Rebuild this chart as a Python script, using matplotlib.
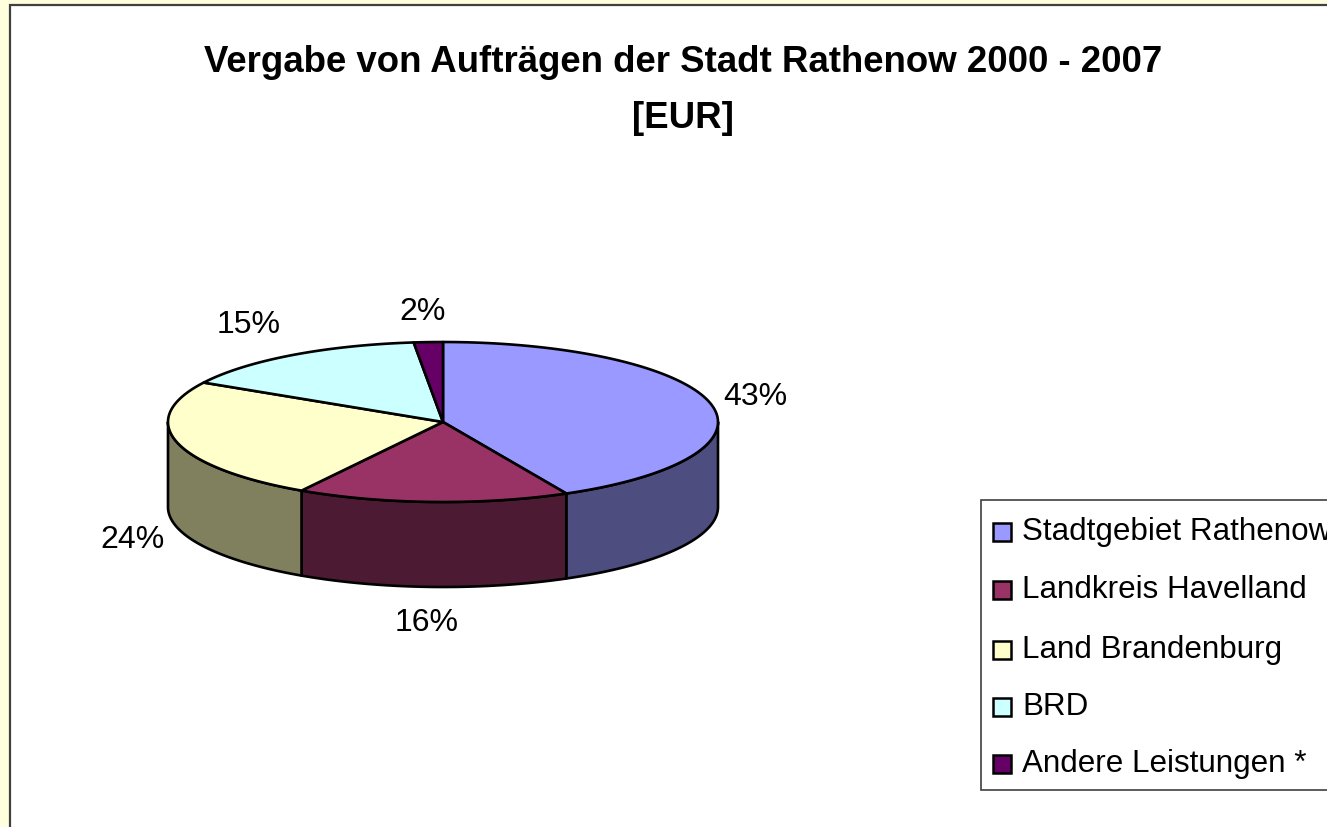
import numpy as np
import matplotlib
matplotlib.use('Agg')
import matplotlib.pyplot as plt
from matplotlib.patches import Polygon, Rectangle

plt.rcParams['font.family'] = ['Liberation Sans', 'DejaVu Sans']

# data
categories = ['Stadtgebiet Rathenow', 'Landkreis Havelland', 'Land Brandenburg', 'BRD', 'Andere Leistungen *']
shares = [42.6, 16.0, 24.6, 15.1, 1.7]
share_labels = ['43%', '16%', '24%', '15%', '2%']
colors = ['#9999FF', '#993366', '#FFFFCC', '#CCFFFF', '#660066']
side_colors = ['#4D4D80', '#4D1A33', '#80805F', '#668080', '#330033']

# layout in pixels
W, H = 1327, 827
cx, cy, rx, ry, depth = 443, 422, 275, 80, 85
label_pos = [(755, 397), (427, 623), (132, 540), (249, 325), (423, 312)]
LW = 1.9


def ell(t):
    return cx + rx * np.cos(t), cy - ry * np.sin(t)


fig = plt.figure(figsize=(W / 100, H / 100), dpi=100, facecolor='#FFFFDD')
ax = fig.add_axes([0, 0, 1, 1])
ax.set_xlim(0, W)
ax.set_ylim(H, 0)
ax.axis('off')

# chart area, runs off the right and bottom edge
ax.add_patch(Rectangle((10, 5), W, H, fc='white', ec='#404040', lw=1.6))

# slice angles, clockwise from the top
angles = 90 - np.cumsum([0] + shares) * 3.6

# side wall first, only the front half of the ellipse shows
for i in range(len(shares)):
    a0, a1 = angles[i], angles[i + 1]
    lo, hi = max(a1, -180), min(a0, 0)
    if lo >= hi:
        continue
    t = np.radians(np.linspace(hi, lo, 80))
    x, y = ell(t)
    pts = np.r_[np.c_[x, y], np.c_[x, y + depth][::-1]]
    ax.add_patch(Polygon(pts, fc=side_colors[i], ec='black', lw=LW, joinstyle='round'))

# top face
for i in range(len(shares)):
    t = np.radians(np.linspace(angles[i], angles[i + 1], 120))
    x, y = ell(t)
    pts = np.r_[[[cx, cy]], np.c_[x, y]]
    ax.add_patch(Polygon(pts, fc=colors[i], ec='black', lw=LW, joinstyle='round'))

for lab, (lx, ly) in zip(share_labels, label_pos):
    ax.text(lx, ly, lab, fontsize=23, ha='center', va='center', color='black')

ax.text(683, 63, 'Vergabe von Aufträgen der Stadt Rathenow 2000 - 2007', fontsize=26.4,
        fontweight='bold', ha='center', va='center')
ax.text(683, 119, '[EUR]', fontsize=26.4, fontweight='bold', ha='center', va='center')

# legend box by hand, it is cut off at the right edge like the original
ax.add_patch(Rectangle((981, 500), W, 290, fc='white', ec='#404040', lw=1.2))
leg_y = [532, 590, 650, 707, 764]
for name, col, ly in zip(categories, colors, leg_y):
    ax.add_patch(Rectangle((993, ly - 9), 18, 18, fc=col, ec='black', lw=1.8))
    ax.text(1022, ly + 8, name, fontsize=22.6, ha='left', va='baseline', clip_on=True)

fig.savefig('out.png', dpi=100, facecolor=fig.get_facecolor())
